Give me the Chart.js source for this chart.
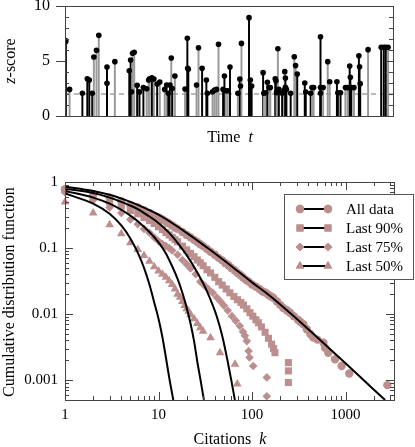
<!DOCTYPE html>
<html>
<head>
<meta charset="utf-8">
<script src="https://cdn.jsdelivr.net/npm/chart.js@4.4.1/dist/chart.umd.min.js"></script>
<style>
body { margin: 0; background: #fff; width: 415px; height: 447px; position: relative; overflow: hidden; font-family: 'Liberation Serif', 'Times New Roman', serif; }
canvas { position: absolute; left: 0; }
#top { top: -10px; }
#bottom { top: 150px; }
.lab { position: absolute; font-size: 16px; color: #000; white-space: nowrap; transform: translate(-50%, -50%); }
.rot { transform: translate(-50%, -50%) rotate(-90deg); }
</style>
</head>
<body>
<canvas id="top" width="415" height="160"></canvas>
<canvas id="bottom" width="415" height="297"></canvas>
<div class="lab rot" style="left:10px;top:61px"><i>z</i>-score</div>
<div class="lab" style="left:230px;top:137px">Time&nbsp; <i>t</i></div>
<div class="lab rot" style="left:9px;top:292px">Cumulative distribution function</div>
<div class="lab" style="left:230px;top:439px">Citations&nbsp; <i>k</i></div>
<script>
var serif = "'Liberation Serif', 'Times New Roman', serif";

// top panel: z-score of each burst along time
var stemTime = [0.2, 0.2, 1.4, 5.3, 6.8, 7.4, 8.3, 8.8, 9.6, 10.3, 12.8, 12.8, 15.2, 19.6, 20.0, 20.3, 20.6, 21.1,
  22.0, 22.7, 23.9, 24.9, 25.5, 25.8, 26.5, 27.1, 28.1, 28.9, 30.4, 31.0, 31.5, 32.0, 32.4, 32.7, 33.5,
  36.6, 37.3, 37.4, 37.6, 40.1, 40.7, 41.8, 43.1, 43.4, 45.0, 45.6, 46.2, 46.8, 48.2, 48.6, 49.0, 49.6, 50.3,
  52.7, 53.3, 53.5, 53.8, 56.1, 56.5, 56.9, 60.4, 60.6, 61.2, 61.7, 62.2, 62.6, 64.1, 64.3, 64.5, 64.9, 65.2,
  66.2, 66.8, 67.0, 67.2, 67.2, 67.5, 68.8, 69.9, 70.3, 70.8, 73.1, 73.4, 74.9, 75.3, 75.8, 77.9, 77.9, 77.9,
  78.7, 80.1, 80.7, 82.9, 83.2, 84.0, 85.5, 86.2, 86.8, 87.0, 87.3, 88.1, 89.6, 89.8, 90.0, 92.4,
  96.4, 97.2, 97.8, 98.5];
var stemScore = [6.85, 6.75, 2.42, 2.06, 3.39, 3.27, 2.06, 5.36, 5.97, 7.33, 4.45, 2.97, 4.94, 4.12, 5.09, 2.2, 5.7, 5.79,
  2.79, 2.2, 2.58, 2.48, 3.27, 3.39, 3.48, 3.36, 2.9, 3.09, 2.42, 2.82, 2.06, 2.82, 5.27, 2.5, 3.64,
  2.45, 7.06, 4.33, 4.24, 2.82, 6.21, 4.33, 3.27, 2.06, 2.2, 2.36, 2.42, 6.52, 2.42, 3.64, 2.3, 2.3, 4.45,
  2.06, 3.36, 2.73, 6.6, 8.94, 3.27, 2.73, 3.94, 2.06, 2.12, 3.06, 2.58, 2.58, 3.39, 3.21, 2.12, 6.12, 2.42,
  2.06, 2.36, 4.03, 3.45, 2.6, 2.42, 2.06, 5.39, 4.58, 3.82, 3.0, 2.18, 2.06, 2.58, 2.58, 7.21, 2.58, 2.06,
  2.58, 4.94, 3.12, 3.12, 2.12, 2.12, 2.58, 2.58, 4.55, 3.52, 2.58, 2.58, 5.48, 4.48, 2.94, 6.03,
  6.24, 6.24, 6.24, 6.24];
var stemGroup = [1, 1, 0, 1, 1, 1, 1, 0, 0, 0, 1, 1, 0, 1, 1, 1, 0, 0,
  1, 1, 1, 0, 0, 0, 1, 0, 1, 0, 0, 0, 1, 1, 0, 1, 0,
  0, 1, 1, 1, 0, 0, 1, 1, 1, 0, 0, 0, 0, 1, 1, 0, 0, 1,
  0, 1, 1, 0, 1, 1, 1, 1, 0, 0, 1, 0, 0, 1, 1, 0, 0, 1,
  1, 0, 0, 1, 1, 1, 1, 0, 0, 1, 1, 1, 1, 0, 0, 1, 1, 1,
  0, 0, 0, 1, 1, 1, 0, 0, 1, 1, 1, 0, 1, 1, 1, 0,
  1, 1, 1, 0];
var zThreshold = 2;
var zTicks = [0, 5, 10];

// bottom panel: cumulative distributions of citations
var allK = [1, 2, 3, 4, 5, 6, 7, 8, 9, 10, 11, 12, 13, 14, 15, 16, 18, 20, 22, 24, 26, 28, 30, 33, 36, 40, 44, 48, 52, 56, 60,
  65, 70, 75, 80, 86, 92, 100, 110, 120, 130, 140, 150, 160, 169, 185, 200, 216, 235, 255, 280, 310, 330, 354, 385,
  420, 453, 500, 580, 603, 654, 773, 910, 1097, 2800];
var allP = [0.78, 0.66, 0.58, 0.51, 0.45, 0.41, 0.37, 0.34, 0.31, 0.29, 0.27, 0.25, 0.235, 0.22, 0.205, 0.195, 0.175, 0.158,
  0.145, 0.133, 0.123, 0.114, 0.107, 0.097, 0.088, 0.079, 0.071, 0.065, 0.059, 0.055, 0.05,
  0.046, 0.042, 0.039, 0.036, 0.033, 0.031, 0.028, 0.026, 0.024, 0.022, 0.021, 0.0195, 0.0185, 0.0176, 0.0155, 0.0138,
  0.0124, 0.0114, 0.0105, 0.0093, 0.0082, 0.0076, 0.007, 0.0059, 0.005, 0.0044, 0.0041, 0.0037, 0.0031, 0.0026,
  0.00207, 0.00164, 0.00126, 0.00084];
var k90 = [1, 2, 3, 4, 5, 6, 7, 8, 9, 10, 11, 12, 13, 14, 15, 16, 18, 20, 22, 24, 26, 28, 30, 33, 36, 40, 44, 48, 53, 58,
  64, 70, 76, 81, 88, 95, 102, 110, 117, 126, 138, 150, 162, 170, 176, 245, 245, 245];
var p90 = [0.76, 0.6, 0.5, 0.43, 0.37, 0.33, 0.29, 0.26, 0.235, 0.21, 0.19, 0.172, 0.158, 0.145, 0.134, 0.124, 0.107, 0.094,
  0.083, 0.074, 0.066, 0.06, 0.054, 0.047, 0.042, 0.036, 0.031, 0.0275, 0.024, 0.021, 0.0185, 0.0165, 0.015, 0.0137,
  0.012, 0.0105, 0.0093, 0.0082, 0.0074, 0.0064, 0.0053, 0.0043, 0.0035, 0.003, 0.0026, 0.00184, 0.00138, 0.00092];
var k75 = [1, 2, 3, 4, 5, 6, 7, 8, 9, 10, 11, 12, 13, 14, 16, 18, 20, 22, 25, 28, 31, 34, 38, 42, 46, 50, 55, 61, 67, 74,
  80, 84, 88, 92, 94, 103, 144, 144];
var p75 = [0.7, 0.53, 0.41, 0.34, 0.27, 0.23, 0.195, 0.17, 0.145, 0.127, 0.115, 0.107, 0.1, 0.092, 0.079, 0.066, 0.057,
  0.049, 0.04, 0.031, 0.027, 0.024, 0.021, 0.0178, 0.0155, 0.0135, 0.0113, 0.0093, 0.0079, 0.0066, 0.0054, 0.0047,
  0.0039, 0.00275, 0.0022, 0.00164, 0.0011, 0.00057];
var k50 = [1, 2, 3, 4, 5, 6, 7, 8, 9, 10, 11, 12, 13, 14, 15, 16, 17, 18, 19, 20, 21, 22, 24, 26, 28, 30, 36, 45.5, 65.8, 69.6];
var p50 = [0.5, 0.34, 0.225, 0.165, 0.12, 0.095, 0.077, 0.063, 0.052, 0.045, 0.04, 0.036, 0.032, 0.028, 0.024, 0.02, 0.018,
  0.0155, 0.0135, 0.012, 0.011, 0.0098, 0.0085, 0.0072, 0.0062, 0.0055, 0.0044, 0.0026, 0.00174, 0.00087];

// fitted curves
var fitAllK = [1, 2, 3, 5, 7, 10, 13.3, 20, 35.6, 60, 100, 155, 300, 600, 1000, 2000, 2650];
var fitAllP = [0.85, 0.73, 0.64, 0.5, 0.41, 0.32, 0.25, 0.17, 0.094, 0.0535, 0.0302, 0.019, 0.0085, 0.0035, 0.0018, 0.00072, 0.0005];
var fit90K = [1, 2, 3, 4, 5, 6, 8, 10, 13, 16, 20, 25, 31.3, 36, 42, 48, 55, 60, 65.6];
var fit90P = [0.79, 0.68, 0.58, 0.5, 0.44, 0.39, 0.3, 0.24, 0.17, 0.12, 0.078, 0.047, 0.026, 0.0165, 0.0092, 0.0047, 0.0019, 0.001, 0.0005];
var fit75K = [1, 2, 3, 4, 5, 6, 8, 10, 12, 14, 16, 18, 20, 22, 24, 26, 28, 30.6];
var fit75P = [0.73, 0.58, 0.47, 0.38, 0.31, 0.255, 0.175, 0.122, 0.083, 0.053, 0.034, 0.021, 0.0125, 0.0072, 0.0039, 0.0019, 0.00105, 0.0005];
var fit50K = [1, 2, 3, 4, 5, 6, 7, 8, 9, 10, 11, 12, 13, 14.4];
var fit50P = [0.67, 0.47, 0.33, 0.22, 0.14, 0.085, 0.05, 0.028, 0.015, 0.0085, 0.0045, 0.0022, 0.0011, 0.0005];

var kTicks = [1, 10, 100, 1000];
var kLabels = ['1', '10', '100', '1000'];
var pTicks = [0.001, 0.01, 0.1, 1];
var pLabels = ['0.001', '0.01', '0.1', '1'];
var seriesNames = ['All data', 'Last 90%', 'Last 75%', 'Last 50%'];

var rose = '#bc8e8e';
var markerStyles = ['circle', 'rect', 'rectRot', 'triangle'];
var markerSizes = [4.2, 5, 4.3, 5];

function xy(xs, ys) {
  return xs.map(function (x, i) { return { x: x, y: ys[i] }; });
}

// ---------- top chart ----------
var topFrame = {
  id: 'topFrame',
  afterDatasetsDraw: function (chart) {
    var ctx = chart.ctx, a = chart.chartArea, y = chart.scales.y;
    ctx.save();
    ctx.strokeStyle = '#444';
    ctx.lineWidth = 1;
    ctx.strokeRect(Math.round(a.left) + 0.5, Math.round(a.top) + 0.5, Math.round(a.right - a.left), Math.round(a.bottom - a.top));
    ctx.beginPath();
    for (var v = 0; v <= 10; v++) {
      var py = Math.round(y.getPixelForValue(v)) + 0.5;
      if (v % 5 === 0) {
        ctx.moveTo(a.left - 9, py); ctx.lineTo(a.left, py);
        ctx.moveTo(a.right, py); ctx.lineTo(a.right - 7, py);
      } else {
        ctx.moveTo(a.left, py); ctx.lineTo(a.left + 4, py);
        ctx.moveTo(a.right, py); ctx.lineTo(a.right - 4, py);
      }
    }
    ctx.stroke();
    ctx.restore();
  }
};

new Chart(document.getElementById('top'), {
  type: 'bar',
  data: {
    datasets: [{
      type: 'line',
      data: xy(stemTime, stemScore),
      showLine: false,
      pointRadius: 2.8,
      pointBackgroundColor: '#000',
      pointBorderWidth: 0,
      order: 0
    }, {
      data: xy(stemTime, stemScore),
      backgroundColor: function (c) { return stemGroup[c.dataIndex] ? '#000' : '#999'; },
      borderWidth: 0,
      barThickness: 1.3,
      grouped: false,
      order: 1
    }, {
      type: 'line',
      data: [{ x: 0, y: zThreshold }, { x: 100, y: zThreshold }],
      borderColor: '#777',
      borderWidth: 1.2,
      borderDash: [5, 4],
      pointRadius: 0,
      clip: false,
      order: 2
    }]
  },
  options: {
    responsive: false,
    animation: false,
    devicePixelRatio: 1,
    layout: { padding: { top: 16, right: 22, bottom: 34, left: 0 } },
    plugins: { legend: { display: false }, tooltip: { enabled: false } },
    scales: {
      x: { type: 'linear', min: 0, max: 100, offset: false, display: false },
      y: {
        min: 0, max: 10,
        afterBuildTicks: function (s) { s.ticks = zTicks.map(function (v) { return { value: v }; }); },
        afterFit: function (s) { s.width = 65; s.paddingTop = 0; s.paddingBottom = 0; },
        grid: { display: false, drawTicks: false },
        border: { display: false },
        ticks: { color: '#000', padding: 15, font: { family: serif, size: 16 } }
      }
    }
  },
  plugins: [topFrame]
});

// ---------- bottom chart ----------
function decadeTicks(min, max) {
  var out = [];
  for (var e = -4; e <= 4; e++) {
    for (var m = 1; m <= 9; m++) {
      var v = m * Math.pow(10, e);
      if (v >= min * 0.999 && v <= max * 1.001) out.push({ v: v, major: m === 1 });
    }
  }
  return out;
}

var bottomFrame = {
  id: 'bottomFrame',
  afterDatasetsDraw: function (chart) {
    var ctx = chart.ctx, a = chart.chartArea, xs = chart.scales.x, ys = chart.scales.y;
    ctx.save();
    ctx.strokeStyle = '#444';
    ctx.lineWidth = 1;
    ctx.strokeRect(Math.round(a.left) + 0.5, Math.round(a.top) + 0.5, Math.round(a.right - a.left), Math.round(a.bottom - a.top));
    ctx.beginPath();
    decadeTicks(xs.min, xs.max).forEach(function (t) {
      var px = Math.round(xs.getPixelForValue(t.v)) + 0.5, len = t.major ? 8 : 4;
      ctx.moveTo(px, a.bottom); ctx.lineTo(px, a.bottom - len);
      ctx.moveTo(px, a.top); ctx.lineTo(px, a.top + len);
    });
    decadeTicks(ys.min, ys.max).forEach(function (t) {
      var py = Math.round(ys.getPixelForValue(t.v)) + 0.5, len = t.major ? 8 : 4;
      ctx.moveTo(a.left, py); ctx.lineTo(a.left + len, py);
      ctx.moveTo(a.right, py); ctx.lineTo(a.right - len, py);
    });
    ctx.stroke();
    ctx.restore();
  }
};

var boxLegend = {
  id: 'boxLegend',
  afterDraw: function (chart) {
    var ctx = chart.ctx;
    var bx = 284, by = 44, bw = 129, bh = 85;
    ctx.save();
    ctx.fillStyle = '#fff';
    ctx.fillRect(bx, by, bw, bh);
    ctx.strokeStyle = '#555';
    ctx.lineWidth = 1;
    ctx.strokeRect(bx + 0.5, by + 0.5, bw, bh);
    seriesNames.forEach(function (name, i) {
      var y = by + 15 + i * 19;
      ctx.strokeStyle = '#000';
      ctx.lineWidth = 2;
      ctx.beginPath();
      ctx.moveTo(300, y); ctx.lineTo(328, y);
      ctx.stroke();
      ctx.fillStyle = rose;
      [300, 328].forEach(function (x) {
        Chart.helpers.drawPoint(ctx, { pointStyle: markerStyles[i], radius: markerSizes[i], rotation: 0, borderWidth: 0 }, x, y);
        ctx.fill();
      });
      ctx.fillStyle = '#000';
      ctx.font = '15px ' + serif;
      ctx.textBaseline = 'middle';
      ctx.fillText(name, 346, y + 1);
    });
    ctx.restore();
  }
};

var markerSets = [xy(allK, allP), xy(k90, p90), xy(k75, p75), xy(k50, p50)];
var fitSets = [xy(fitAllK, fitAllP), xy(fit90K, fit90P), xy(fit75K, fit75P), xy(fit50K, fit50P)];

var bottomDatasets = [];
fitSets.forEach(function (d) {
  bottomDatasets.push({
    data: d,
    showLine: true,
    borderColor: '#000',
    borderWidth: 2,
    pointRadius: 0,
    cubicInterpolationMode: 'monotone',
    order: 0
  });
});
markerSets.forEach(function (d, i) {
  bottomDatasets.push({
    data: d,
    pointStyle: markerStyles[i],
    pointRadius: markerSizes[i],
    backgroundColor: rose,
    borderWidth: 0,
    clip: 6,
    order: 1
  });
});

new Chart(document.getElementById('bottom'), {
  type: 'scatter',
  data: { datasets: bottomDatasets },
  options: {
    responsive: false,
    animation: false,
    devicePixelRatio: 1,
    layout: { padding: { top: 32, right: 21, bottom: 0, left: 0 } },
    plugins: { legend: { display: false }, tooltip: { enabled: false } },
    scales: {
      x: {
        type: 'logarithmic', min: 1, max: 3300,
        afterBuildTicks: function (s) { s.ticks = kTicks.map(function (v) { return { value: v }; }); },
        afterFit: function (s) { s.height = 47; },
        grid: { display: false, drawTicks: false },
        border: { display: false },
        ticks: { color: '#000', padding: 6, autoSkip: false, maxRotation: 0, font: { family: serif, size: 15 },
          callback: function (v, i) { return kLabels[i]; } }
      },
      y: {
        type: 'logarithmic', min: 0.0005, max: 1,
        afterBuildTicks: function (s) { s.ticks = pTicks.map(function (v) { return { value: v }; }); },
        afterFit: function (s) { s.width = 65; },
        grid: { display: false, drawTicks: false },
        border: { display: false },
        ticks: { color: '#000', padding: 7, autoSkip: false, font: { family: serif, size: 15 },
          callback: function (v, i) { return pLabels[i]; } }
      }
    }
  },
  plugins: [bottomFrame, boxLegend]
});
</script>
</body>
</html>
